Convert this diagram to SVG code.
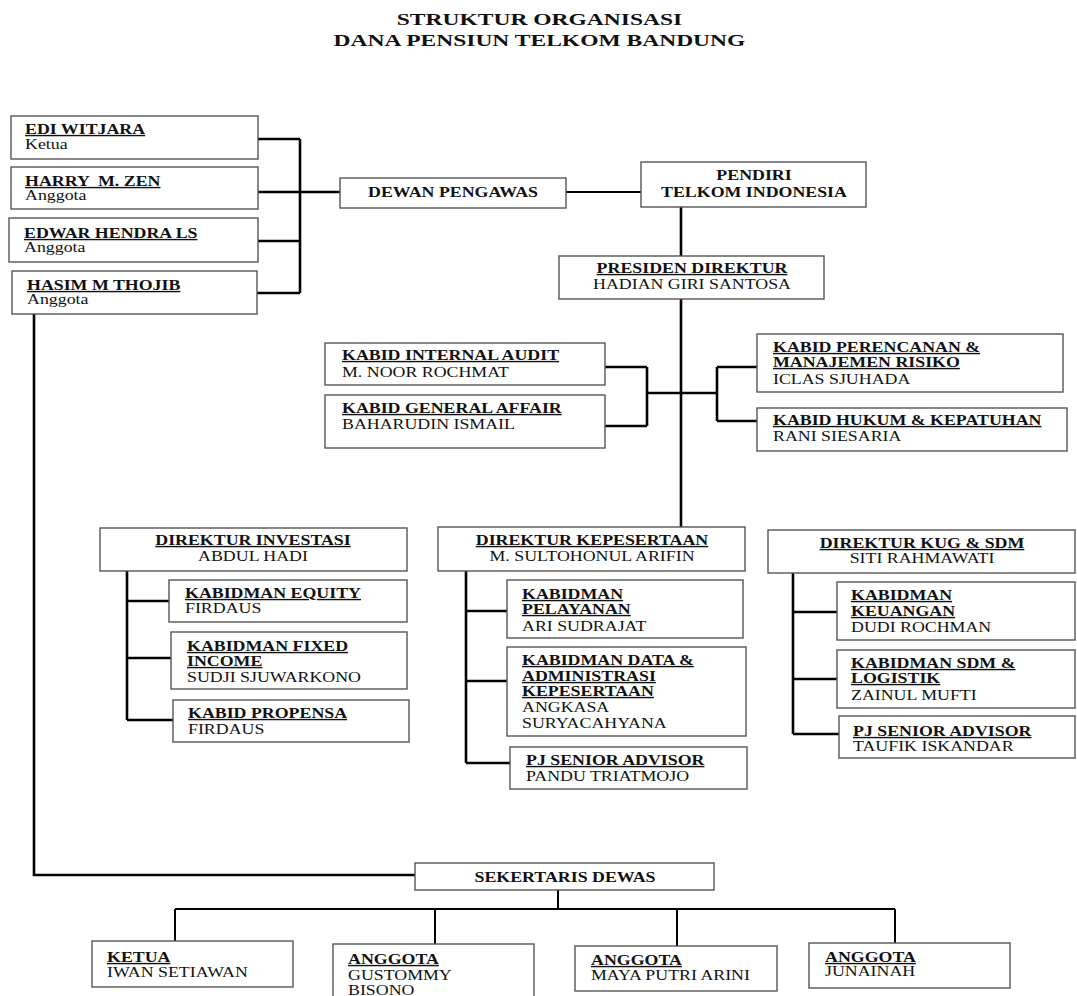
<svg xmlns="http://www.w3.org/2000/svg" width="1077" height="996" viewBox="0 0 1077 996">
<style>
.bx{fill:#fff;stroke:#555;stroke-width:1.4}
text{font-family:"Liberation Serif","Times New Roman",serif;font-size:14px;fill:#111}
.t{font-weight:bold}
.u{text-decoration:underline}
.c{text-anchor:middle}
.h{font-size:17.5px;font-weight:bold}
.cn{fill:none;stroke:#000;stroke-width:2.6}
.cn2{fill:none;stroke:#000;stroke-width:2}
</style>
<rect width="1077" height="996" fill="#fff"/>
<g id="title">
<text class="h c" transform="translate(539.5 25) scale(1.345 1)">STRUKTUR ORGANISASI</text>
<text class="h c" transform="translate(539.5 46) scale(1.345 1)">DANA PENSIUN TELKOM BANDUNG</text>
</g>
<g id="connectors">
<path class="cn" d="M258,139H300M258,192H300M258,241H300M257,293H300M300,139V293M300,192H340"/>
<path class="cn2" d="M566,192H641"/>
<path class="cn" d="M681,207V256M681,299V527"/>
<path class="cn" d="M605,367H647M605,426H647M647,367V426M647,393H717M717,367V421M717,367H757M717,421H757"/>
<path class="cn" d="M127,571V720M127,601H169M127,658H171M127,720H173"/>
<path class="cn" d="M466,571V763M466,611H507M466,681H507M466,763H510"/>
<path class="cn" d="M793,573V734M793,612H837M793,679H837M793,734H839"/>
<path class="cn" d="M34,314V875H415"/>
<path class="cn2" d="M558,890V909M175,909H895M175,909V941M435,909V944M677,909V946M895,909V943"/>
</g>
<g id="edi"><rect class="bx" x="11" y="116" width="247" height="43"/>
<text class="t u" transform="translate(25 134) scale(1.275 1)">EDI WITJARA</text>
<text transform="translate(25 149) scale(1.275 1)">Ketua</text></g>
<g id="harry"><rect class="bx" x="11" y="167" width="247" height="42"/>
<text class="t u" transform="translate(25 186) scale(1.275 1)" xml:space="preserve">HARRY  M. ZEN</text>
<text transform="translate(25 200) scale(1.275 1)">Anggota</text></g>
<g id="edwar"><rect class="bx" x="9" y="218" width="249" height="44"/>
<text class="t u" transform="translate(24 238) scale(1.275 1)">EDWAR HENDRA LS</text>
<text transform="translate(24 252) scale(1.275 1)">Anggota</text></g>
<g id="hasim"><rect class="bx" x="12" y="271" width="245" height="43"/>
<text class="t u" transform="translate(27 290) scale(1.275 1)">HASIM M THOJIB</text>
<text transform="translate(27 304) scale(1.275 1)">Anggota</text></g>
<g id="dewan"><rect class="bx" x="340" y="178" width="226" height="30"/>
<text class="t c" transform="translate(453 197) scale(1.275 1)">DEWAN PENGAWAS</text></g>
<g id="pendiri"><rect class="bx" x="641" y="162" width="225" height="45"/>
<text class="t c" transform="translate(754 180) scale(1.275 1)">PENDIRI</text>
<text class="t c" transform="translate(754 197) scale(1.275 1)">TELKOM INDONESIA</text></g>
<g id="presiden"><rect class="bx" x="559" y="256" width="265" height="43"/>
<text class="t u c" transform="translate(692 273) scale(1.275 1)">PRESIDEN DIREKTUR</text>
<text class="c" transform="translate(692 289) scale(1.275 1)">HADIAN GIRI SANTOSA</text></g>
<g id="audit"><rect class="bx" x="325" y="343" width="280" height="42"/>
<text class="t u" transform="translate(342 360) scale(1.275 1)">KABID INTERNAL AUDIT</text>
<text transform="translate(342 377) scale(1.275 1)">M. NOOR ROCHMAT</text></g>
<g id="general"><rect class="bx" x="325" y="395" width="280" height="53"/>
<text class="t u" transform="translate(342 413) scale(1.275 1)">KABID GENERAL AFFAIR</text>
<text transform="translate(342 429) scale(1.275 1)">BAHARUDIN ISMAIL</text></g>
<g id="perencanan"><rect class="bx" x="757" y="334" width="306" height="58"/>
<text class="t u" transform="translate(773 352) scale(1.275 1)">KABID PERENCANAN &amp;</text>
<text class="t u" transform="translate(773 367) scale(1.275 1)">MANAJEMEN RISIKO</text>
<text transform="translate(773 384) scale(1.275 1)">ICLAS SJUHADA</text></g>
<g id="hukum"><rect class="bx" x="757" y="408" width="310" height="43"/>
<text class="t u" transform="translate(773 425) scale(1.275 1)">KABID HUKUM &amp; KEPATUHAN</text>
<text transform="translate(773 441) scale(1.275 1)">RANI SIESARIA</text></g>
<g id="investasi"><rect class="bx" x="100" y="528" width="307" height="43"/>
<text class="t u c" transform="translate(253 545) scale(1.275 1)">DIREKTUR INVESTASI</text>
<text class="c" transform="translate(253 561) scale(1.275 1)">ABDUL HADI</text></g>
<g id="kepesertaan"><rect class="bx" x="438" y="527" width="307" height="44"/>
<text class="t u c" transform="translate(592 545) scale(1.275 1)">DIREKTUR KEPESERTAAN</text>
<text class="c" transform="translate(592 561) scale(1.275 1)">M. SULTOHONUL ARIFIN</text></g>
<g id="kug"><rect class="bx" x="768" y="530" width="307" height="43"/>
<text class="t u c" transform="translate(922 548) scale(1.275 1)">DIREKTUR KUG &amp; SDM</text>
<text class="c" transform="translate(922 563) scale(1.275 1)">SITI RAHMAWATI</text></g>
<g id="equity"><rect class="bx" x="169" y="580" width="238" height="42"/>
<text class="t u" transform="translate(185 598) scale(1.275 1)">KABIDMAN EQUITY</text>
<text transform="translate(185 613) scale(1.275 1)">FIRDAUS</text></g>
<g id="fixed"><rect class="bx" x="171" y="632" width="236" height="57"/>
<text class="t u" transform="translate(187 651) scale(1.275 1)">KABIDMAN FIXED</text>
<text class="t u" transform="translate(187 666) scale(1.275 1)">INCOME</text>
<text transform="translate(187 682) scale(1.275 1)">SUDJI SJUWARKONO</text></g>
<g id="propensa"><rect class="bx" x="173" y="700" width="236" height="42"/>
<text class="t u" transform="translate(188 718) scale(1.275 1)">KABID PROPENSA</text>
<text transform="translate(188 734) scale(1.275 1)">FIRDAUS</text></g>
<g id="pelayanan"><rect class="bx" x="507" y="580" width="236" height="58"/>
<text class="t u" transform="translate(522 599) scale(1.275 1)">KABIDMAN</text>
<text class="t u" transform="translate(522 614) scale(1.275 1)">PELAYANAN</text>
<text transform="translate(522 631) scale(1.275 1)">ARI SUDRAJAT</text></g>
<g id="data"><rect class="bx" x="507" y="647" width="239" height="89"/>
<text class="t u" transform="translate(522 665) scale(1.275 1)">KABIDMAN DATA &amp;</text>
<text class="t u" transform="translate(522 681) scale(1.275 1)">ADMINISTRASI</text>
<text class="t u" transform="translate(522 696) scale(1.275 1)">KEPESERTAAN</text>
<text transform="translate(522 712) scale(1.275 1)">ANGKASA</text>
<text transform="translate(522 728) scale(1.275 1)">SURYACAHYANA</text></g>
<g id="pj1"><rect class="bx" x="510" y="747" width="237" height="42"/>
<text class="t u" transform="translate(526 765) scale(1.275 1)">PJ SENIOR ADVISOR</text>
<text transform="translate(526 781) scale(1.275 1)">PANDU TRIATMOJO</text></g>
<g id="keuangan"><rect class="bx" x="837" y="582" width="238" height="58"/>
<text class="t u" transform="translate(851 600) scale(1.275 1)">KABIDMAN</text>
<text class="t u" transform="translate(851 616) scale(1.275 1)">KEUANGAN</text>
<text transform="translate(851 632) scale(1.275 1)">DUDI ROCHMAN</text></g>
<g id="sdm"><rect class="bx" x="837" y="650" width="238" height="58"/>
<text class="t u" transform="translate(851 668) scale(1.275 1)">KABIDMAN SDM &amp;</text>
<text class="t u" transform="translate(851 683) scale(1.275 1)">LOGISTIK</text>
<text transform="translate(851 700) scale(1.275 1)">ZAINUL MUFTI</text></g>
<g id="pj2"><rect class="bx" x="839" y="716" width="236" height="42"/>
<text class="t u" transform="translate(853 736) scale(1.275 1)">PJ SENIOR ADVISOR</text>
<text transform="translate(853 751) scale(1.275 1)">TAUFIK ISKANDAR</text></g>
<g id="sekertaris"><rect class="bx" x="415" y="863" width="299" height="27"/>
<text class="t c" transform="translate(565 882) scale(1.275 1)">SEKERTARIS DEWAS</text></g>
<g id="ketua"><rect class="bx" x="92" y="941" width="201" height="46"/>
<text class="t u" transform="translate(107 962) scale(1.275 1)">KETUA</text>
<text transform="translate(107 977) scale(1.275 1)">IWAN SETIAWAN</text></g>
<g id="gustommy"><rect class="bx" x="333" y="944" width="201" height="62"/>
<text class="t u" transform="translate(348 964) scale(1.275 1)">ANGGOTA</text>
<text transform="translate(348 980) scale(1.275 1)">GUSTOMMY</text>
<text transform="translate(348 995) scale(1.275 1)">BISONO</text></g>
<g id="maya"><rect class="bx" x="575" y="946" width="202" height="45"/>
<text class="t u" transform="translate(591 965) scale(1.275 1)">ANGGOTA</text>
<text transform="translate(591 980) scale(1.275 1)">MAYA PUTRI ARINI</text></g>
<g id="junainah"><rect class="bx" x="809" y="943" width="201" height="45"/>
<text class="t u" transform="translate(825 962) scale(1.275 1)">ANGGOTA</text>
<text transform="translate(825 976) scale(1.275 1)">JUNAINAH</text></g>
</svg>
